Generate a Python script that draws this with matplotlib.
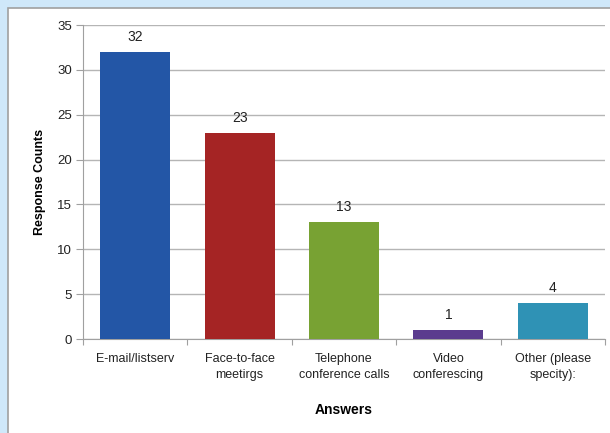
import matplotlib
matplotlib.use("Agg")
import matplotlib.pyplot as plt
from matplotlib.patches import Rectangle

plt.rcParams["font.family"] = ["Liberation Sans", "DejaVu Sans"]

categories = ["E-mail/listserv", "Face-to-face\nmeetirgs", "Telephone\nconference calls",
              "Video\nconferescing", "Other (please\nspecity):"]
counts = [32, 23, 13, 1, 4]
colors = ["#2356a6", "#a52424", "#78a233", "#5b3c8e", "#2f92b5"]

fig = plt.figure(figsize=(6.1, 4.33), dpi=100)
fig.patch.set_facecolor("white")
# light blue frame on top/left, gray inner edge
fig.add_artist(Rectangle((0, 0), 1, 1, transform=fig.transFigure, facecolor="#cfe8fa",
                         edgecolor="none", zorder=-3))
fig.add_artist(Rectangle((8 / 610, -0.1), 1.2, 1.1 - 8 / 433, transform=fig.transFigure,
                         facecolor="white", edgecolor="#a0a0a0", linewidth=1.2, zorder=-2))

ax = fig.add_axes([83 / 610, 94 / 433, 522 / 610, 314 / 433])
x = range(len(categories))
bars = ax.bar(x, counts, width=0.67, color=colors, zorder=3)
for b, v in zip(bars, counts):
    ax.text(b.get_x() + b.get_width() / 2, v + 0.9, str(v), ha="center", va="bottom",
            fontsize=10, color="#222222")

ax.set_ylim(0, 35)
ax.set_xlim(-0.5, len(categories) - 0.5)
ax.set_yticks(range(0, 36, 5))
ax.yaxis.grid(True, color="#b5b5b5", linewidth=1, zorder=0)
ax.set_axisbelow(True)
for s in ["top", "right"]:
    ax.spines[s].set_visible(False)
ax.spines["left"].set_color("#a0a0a0")
ax.spines["bottom"].set_color("#a0a0a0")

ax.set_xticks([i + 0.5 for i in range(-1, len(categories))], minor=False)
ax.set_xticklabels([])
ax.set_xticks(list(x), minor=True)
ax.set_xticklabels(categories, minor=True, fontsize=9, color="#222222", linespacing=1.45)
ax.tick_params(axis="x", which="minor", length=0, pad=10)
ax.tick_params(axis="x", which="major", length=4, color="#a0a0a0")
ax.tick_params(axis="y", length=5, color="#a0a0a0", labelsize=9.5, labelcolor="#222222", pad=3)

ax.set_ylabel("Response Counts", fontsize=9, fontweight="bold", labelpad=8)
ax.set_xlabel("Answers", fontsize=10, fontweight="bold", labelpad=16)

fig.savefig("out.png", dpi=100)
